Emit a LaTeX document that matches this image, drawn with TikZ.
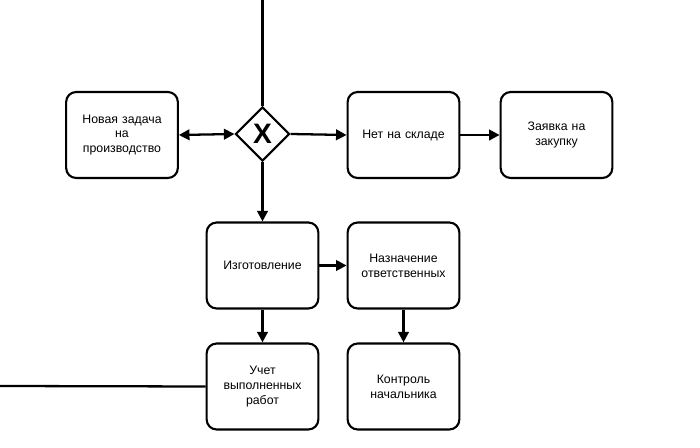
\documentclass[tikz,border=0pt]{standalone}
\usepackage{fontspec}
\setmainfont{Liberation Sans}
\usepackage{tikz}
\usetikzlibrary{shapes.geometric, arrows.meta}

\begin{document}
\begin{tikzpicture}[
  task/.style={draw, line width=1.2pt, rounded corners=0.2cm, minimum width=2.2cm, minimum height=1.72cm, align=center, text width=2.0cm, font=\fontsize{7}{8.5}\selectfont},
  gate/.style={draw, diamond, line width=1.2pt, minimum size=1.08cm, inner sep=0pt, font=\fontsize{16}{16}\selectfont\bfseries},
  tip/.tip={Triangle[length=6pt,width=6pt]},
  flow/.style={line width=1.3pt, -tip},
  plain/.style={line width=1.3pt}
]
% frame
\useasboundingbox (0,0) rectangle (14,-8.96);

% free ends
\coordinate (top) at (5.25,0);
\coordinate (left) at (0,-7.72);

% upper row
\node[task] (nova) at (2.44,-2.70) {Новая задача\\на\\производство};
\node[gate] (gw) at (5.25,-2.68) {X};
\node[task] (net) at (8.07,-2.70) {Нет на складе};
\node[task] (zayavka) at (11.13,-2.70) {Заявка на\\закупку};

% middle row
\node[task] (izg) at (5.25,-5.31) {Изготовление};
\node[task] (nazn) at (8.07,-5.31) {Назначение\\ответственных};

% lower row
\node[task] (uchet) at (5.25,-7.73) {Учет\\выполненных\\работ};
\node[task] (kontrol) at (8.07,-7.73) {Контроль\\начальника};

% connectors
\draw[plain] (top) -- (gw.north);
\draw[plain] (left) -- (uchet.west);
\draw[flow, tip-tip] (nova.east) -- (gw.west);
\draw[flow] (gw.east) -- (net.west);
\draw[flow] (net.east) -- (zayavka.west);
\draw[flow] (gw.south) -- (izg.north);
\draw[flow] (izg.east) -- (nazn.west);
\draw[flow] (izg.south) -- (uchet.north);
\draw[flow] (nazn.south) -- (kontrol.north);

\end{tikzpicture}
\end{document}
